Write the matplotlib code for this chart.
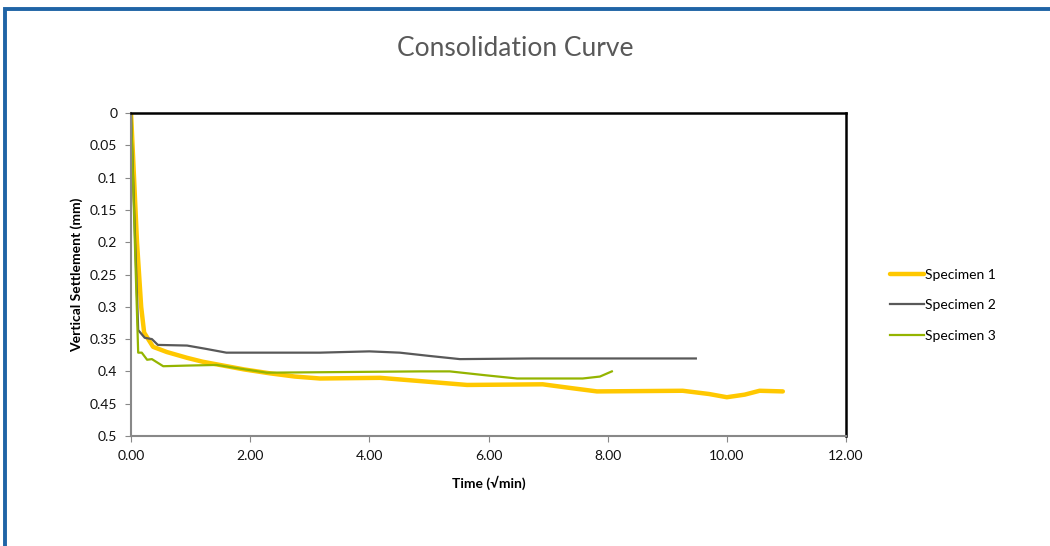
import numpy as np
import matplotlib
matplotlib.use('Agg')
import matplotlib.pyplot as plt
from matplotlib.patches import Rectangle

plt.rcParams['font.family'] = ['Lato', 'DejaVu Sans']

# Settlement readings, time in sqrt(min), settlement in mm
t1 = [0, 0.10, 0.17, 0.22, 0.37, 0.60, 0.94, 1.20, 1.49, 1.90, 2.33, 2.75, 3.17, 4.18, 4.85, 5.64, 6.91, 7.40, 7.82, 9.26, 9.70, 10.0, 10.30, 10.55, 10.94]
s1 = [0, 0.20, 0.30, 0.34, 0.362, 0.370, 0.379, 0.385, 0.390, 0.397, 0.403, 0.408, 0.411, 0.410, 0.415, 0.421, 0.420, 0.426, 0.431, 0.430, 0.435, 0.440, 0.436, 0.430, 0.431]

t2 = [0, 0.07, 0.12, 0.23, 0.35, 0.45, 0.94, 1.25, 1.60, 3.17, 4.00, 4.51, 5.00, 5.52, 6.74, 9.48]
s2 = [0, 0.20, 0.336, 0.348, 0.350, 0.359, 0.360, 0.365, 0.371, 0.371, 0.369, 0.371, 0.376, 0.381, 0.380, 0.380]

t3 = [0, 0.08, 0.12, 0.18, 0.27, 0.35, 0.54, 0.94, 1.44, 1.85, 2.28, 4.85, 5.35, 5.95, 6.48, 7.58, 7.87, 8.07]
s3 = [0, 0.25, 0.371, 0.371, 0.382, 0.381, 0.392, 0.391, 0.390, 0.396, 0.402, 0.400, 0.400, 0.406, 0.411, 0.411, 0.408, 0.400]

x_ticks = [0, 2, 4, 6, 8, 10, 12]
y_ticks = [0, 0.05, 0.1, 0.15, 0.2, 0.25, 0.3, 0.35, 0.4, 0.45, 0.5]
y_labels = ['0', '0.05', '0.1', '0.15', '0.2', '0.25', '0.3', '0.35', '0.4', '0.45', '0.5']

fig = plt.figure(figsize=(10.5, 5.46), dpi=100)
ax = fig.add_axes([0.1248, 0.2015, 0.6809, 0.5915])

ax.plot(t1, s1, color='#FFC800', lw=3.2, label='Specimen 1',
        solid_capstyle='round', solid_joinstyle='round')
ax.plot(t2, s2, color='#595959', lw=1.6, label='Specimen 2', solid_joinstyle='round')
ax.plot(t3, s3, color='#94B400', lw=1.6, label='Specimen 3', solid_joinstyle='round')

ax.set_xlim(0, 12)
ax.set_ylim(0.5, 0)
ax.set_xticks(x_ticks)
ax.set_xticklabels([f'{v:.2f}' for v in x_ticks])
ax.set_yticks(y_ticks)
ax.set_yticklabels(y_labels)
ax.tick_params(direction='out', length=4, color='#888888', labelsize=10, labelcolor='#111111', pad=6)

for side in ['top', 'right']:
    ax.spines[side].set_color('black')
    ax.spines[side].set_linewidth(1.8)
for side in ['left', 'bottom']:
    ax.spines[side].set_color('#888888')
    ax.spines[side].set_linewidth(1.5)

ax.set_xlabel('Time (√min)', fontsize=10, fontweight='bold', labelpad=10)
ax.set_ylabel('Vertical Settlement (mm)', fontsize=10, fontweight='bold', labelpad=5)

fig.text(0.491, 0.912, 'Consolidation Curve', ha='center', va='center',
         fontsize=19, color='#595959', fontweight='normal')

leg = fig.legend(loc='center left', bbox_to_anchor=(0.836, 0.441), frameon=False,
                 fontsize=10, handlelength=2.4, handletextpad=0.1, labelspacing=1.32)

# outer chart frame
fig.patches.append(Rectangle((4.5 / 1050, -0.1), 1.2, 1.1 - 9.5 / 546,
                             transform=fig.transFigure, fill=False,
                             edgecolor='#1F64A6', lw=2.8))

fig.savefig('out.png', dpi=100)
